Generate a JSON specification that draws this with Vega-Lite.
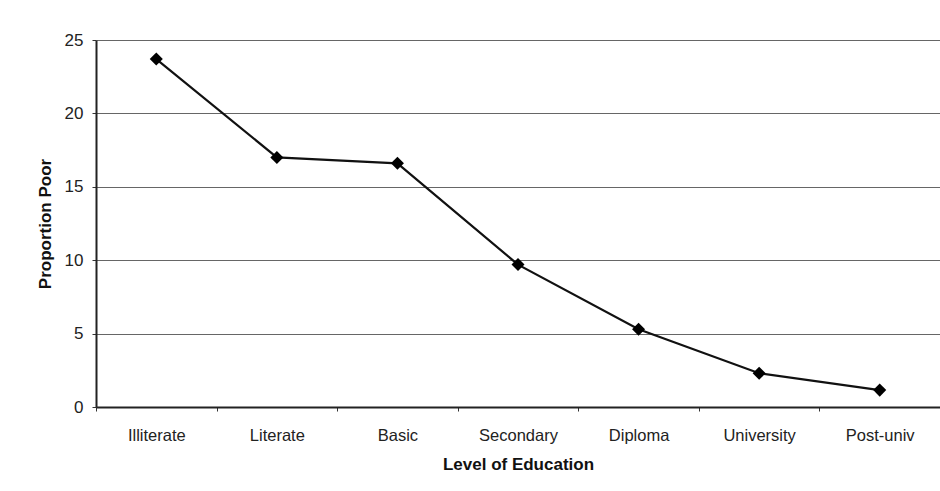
{
  "$schema": "https://vega.github.io/schema/vega-lite/v6.json",
  "autosize": "none",
  "width": 844,
  "height": 367,
  "padding": {"left": 96, "top": 40, "right": 0, "bottom": 84},
  "background": "white",
  "config": {
    "view": {"stroke": null},
    "font": "Liberation Sans",
    "axis": {"labelFont": "Liberation Sans", "titleFont": "Liberation Sans", "labelColor": "#222", "titleColor": "#111"}
  },
  "data": {
    "values": [
      {"level": "Illiterate", "poor": 23.7},
      {"level": "Literate", "poor": 17.0},
      {"level": "Basic", "poor": 16.6},
      {"level": "Secondary", "poor": 9.7},
      {"level": "Diploma", "poor": 5.3},
      {"level": "University", "poor": 2.3},
      {"level": "Post-univ", "poor": 1.15}
    ]
  },
  "encoding": {
    "x": {
      "field": "level", "type": "nominal", "sort": null,
      "scale": {"paddingInner": 0, "paddingOuter": 0},
      "axis": {
        "title": "Level of Education", "titleFontSize": 17, "titleFontWeight": "bold", "titlePadding": 13,
        "labelAngle": 0, "labelFontSize": 16.5, "labelPadding": 16,
        "tickBand": "extent", "tickSize": 4, "tickColor": "#333", "domainColor": "#222", "domainWidth": 2,
        "grid": false
      }
    },
    "y": {
      "field": "poor", "type": "quantitative",
      "scale": {"domain": [0, 25]},
      "axis": {
        "title": "Proportion Poor", "titleFontSize": 17, "titleFontWeight": "bold", "titlePadding": 10,
        "values": [0, 5, 10, 15, 20, 25], "labelFontSize": 17, "labelPadding": 9,
        "tickSize": 4, "tickColor": "#333", "domainColor": "#222", "domainWidth": 2,
        "grid": true, "gridColor": "#666", "gridWidth": 1.2
      }
    }
  },
  "layer": [
    {"mark": {"type": "line", "color": "#111", "strokeWidth": 2.2}},
    {"mark": {"type": "point", "shape": "diamond", "filled": true, "color": "#000", "size": 170, "opacity": 1}}
  ]
}
